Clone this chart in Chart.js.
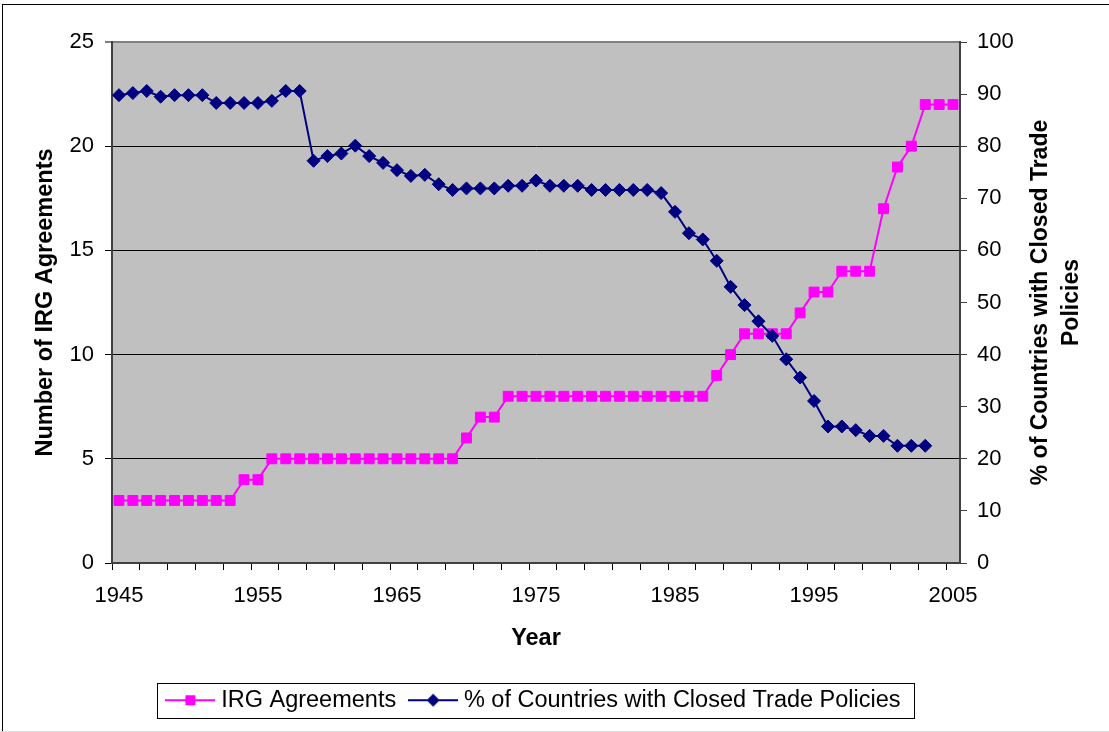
<!DOCTYPE html>
<html><head><meta charset="utf-8">
<script src="https://cdn.jsdelivr.net/npm/chart.js@4.4.1/dist/chart.umd.min.js"></script>
<style>html,body{margin:0;padding:0;background:#fff;}#wrap{width:1109px;height:732px;}</style>
</head><body><div id="wrap"><canvas id="c" width="1109" height="732"></canvas></div>
<script>
const years = [1945,1946,1947,1948,1949,1950,1951,1952,1953,1954,1955,1956,1957,1958,1959,1960,1961,1962,1963,1964,1965,1966,1967,1968,1969,1970,1971,1972,1973,1974,1975,1976,1977,1978,1979,1980,1981,1982,1983,1984,1985,1986,1987,1988,1989,1990,1991,1992,1993,1994,1995,1996,1997,1998,1999,2000,2001,2002,2003,2004,2005];
const irgAgreements = [3,3,3,3,3,3,3,3,3,4,4,5,5,5,5,5,5,5,5,5,5,5,5,5,5,6,7,7,8,8,8,8,8,8,8,8,8,8,8,8,8,8,8,9,10,11,11,11,11,12,13,13,14,14,14,17,19,20,22,22,22];
const closedTradePct = [89.8,90.2,90.6,89.5,89.8,89.8,89.8,88.3,88.3,88.3,88.3,88.7,90.6,90.6,77.2,78.1,78.6,80.1,78.1,76.8,75.4,74.3,74.5,72.7,71.6,71.9,71.9,71.9,72.4,72.4,73.4,72.4,72.4,72.4,71.6,71.6,71.6,71.6,71.6,71.0,67.4,63.3,62.1,58.0,53.0,49.5,46.4,43.6,39.1,35.6,31.1,26.2,26.2,25.5,24.4,24.4,22.5,22.5,22.5,null,null];
const seriesNames = ['IRG Agreements', '% of Countries with Closed Trade Policies'];
const leftTitle = 'Number of IRG Agreements';
const rightTitleLines = ['% of Countries with Closed Trade', 'Policies'];
const xTitle = 'Year';

const FAM = '"Liberation Sans", Arial, Helvetica, sans-serif';
Chart.defaults.font.family = FAM;
Chart.defaults.color = '#000';

function legendIcon(color, style) {
  const c = document.createElement('canvas'); c.width = 50; c.height = 16;
  const g = c.getContext('2d');
  g.strokeStyle = color; g.lineWidth = 2;
  g.beginPath(); g.moveTo(0, 8); g.lineTo(50, 8); g.stroke();
  g.fillStyle = color;
  if (style === 'rect') { g.fillRect(20, 3, 10, 10); }
  else { g.beginPath(); g.moveTo(25, 1.5); g.lineTo(31.5, 8); g.lineTo(25, 14.5); g.lineTo(18.5, 8); g.closePath(); g.fill(); }
  return c;
}
const icons = [legendIcon('#FF00FF', 'rect'), legendIcon('#000080', 'diamond')];

const decor = {
  id: 'decor',
  beforeDraw(chart) {
    const {ctx, chartArea: a} = chart;
    ctx.save();
    ctx.fillStyle = '#fff'; ctx.fillRect(0, 0, chart.width, chart.height);
    ctx.fillStyle = '#C0C0C0'; ctx.fillRect(a.left, a.top, a.right - a.left, a.bottom - a.top);
    ctx.restore();
  },
  afterDraw(chart) {
    const {ctx, chartArea: a} = chart;
    ctx.save();
    // outer frame
    ctx.strokeStyle = '#000'; ctx.lineWidth = 1;
    ctx.strokeRect(2.5, 4.5, 1300, 900);
    ctx.fillStyle = '#dddddd'; ctx.fillRect(0, chart.height - 1, chart.width, 1);
    // legend box
    const hb = chart.legend.legendHitBoxes;
    if (hb && hb.length) {
      const l = Math.round(hb[0].left - 14) + 0.5;
      const last = hb[hb.length - 1];
      const r = Math.round(last.left + last.width + 13) + 0.5;
      const cy = hb[0].top + hb[0].height / 2;
      const t = Math.round(cy - 17) + 0.5;
      ctx.strokeStyle = '#000'; ctx.lineWidth = 1;
      ctx.strokeRect(l, t, r - l, 35);
    }
    // right axis title (reads bottom to top)
    ctx.fillStyle = '#000';
    ctx.font = 'bold 23px ' + FAM;
    ctx.textAlign = 'center'; ctx.textBaseline = 'middle';
    ctx.translate(1041, (a.top + a.bottom) / 2);
    ctx.rotate(-Math.PI / 2);
    rightTitleLines.forEach((s, i) => ctx.fillText(s, 0, i * 31));
    ctx.restore();
  }
};

new Chart(document.getElementById('c'), {
  type: 'line',
  data: {
    labels: years,
    datasets: [
      { label: seriesNames[0], data: irgAgreements, yAxisID: 'y', order: 1,
        borderColor: '#FF00FF', backgroundColor: '#FF00FF', borderWidth: 2,
        pointStyle: 'rect', pointRadius: 7, pointBorderWidth: 1,
        pointBackgroundColor: '#FF00FF', pointBorderColor: '#FF00FF', tension: 0, fill: false },
      { label: seriesNames[1], data: closedTradePct, yAxisID: 'y1', order: 0,
        borderColor: '#000080', backgroundColor: '#000080', borderWidth: 2,
        pointStyle: 'rectRot', pointRadius: 6.5, pointBorderWidth: 1,
        pointBackgroundColor: '#000080', pointBorderColor: '#000080', tension: 0, fill: false, spanGaps: false }
    ]
  },
  options: {
    responsive: false, animation: false, devicePixelRatio: 1,
    layout: { padding: { left: 0, right: 37, top: 42, bottom: 10 } },
    plugins: {
      tooltip: { enabled: false },
      legend: {
        position: 'bottom',
        labels: {
          usePointStyle: true, pointStyleWidth: 38, padding: 18,
          font: { size: 23.5, family: FAM }, color: '#000',
          generateLabels: (chart) => chart.data.datasets.map((ds, i) => ({
            text: ds.label, pointStyle: icons[i], fillStyle: ds.borderColor,
            strokeStyle: ds.borderColor, lineWidth: 0, hidden: false, datasetIndex: i, fontColor: '#000'
          }))
        }
      }
    },
    scales: {
      x: {
        type: 'category', offset: true,
        grid: { offset: true, drawOnChartArea: false, tickLength: 7,
          color: (c) => (c.index % 2 === 0 ? '#000' : 'rgba(0,0,0,0)') },
        border: { color: '#404040', width: 2 },
        ticks: { autoSkip: false, maxRotation: 0, minRotation: 0, padding: 13, color: '#000',
          font: { size: 22, family: FAM },
          callback: (v, i) => ((years[i] - 1945) % 10 === 0 ? String(years[i]) : '') },
        title: { display: true, text: xTitle, color: '#000',
          font: { size: 23.5, weight: 'bold', family: FAM }, padding: { top: 0, bottom: 18 } },
        afterFit: (s) => { s.height = 107.5; }
      },
      y: {
        position: 'left', min: 0, max: 25,
        ticks: { stepSize: 5, padding: 11, color: '#000', font: { size: 22, family: FAM } },
        grid: { tickLength: 7,
          color: (c) => (c.tick && c.tick.value === 25 ? '#808080' : '#000'),
          lineWidth: (c) => (c.tick && c.tick.value === 25 ? 2 : 1) },
        border: { color: '#404040', width: 2 },
        title: { display: true, text: leftTitle, color: '#000',
          font: { size: 23.5, weight: 'bold', family: FAM }, padding: { top: 31, bottom: 0 } },
        afterFit: (s) => { s.width = 112; }
      },
      y1: {
        position: 'right', min: 0, max: 100,
        ticks: { stepSize: 10, padding: 10, color: '#000', font: { size: 22, family: FAM } },
        grid: { drawOnChartArea: false, tickLength: 7, color: '#404040' },
        border: { color: '#404040', width: 2 },
        afterFit: (s) => { s.width = 112; }
      }
    }
  },
  plugins: [decor]
});
</script></body></html>
